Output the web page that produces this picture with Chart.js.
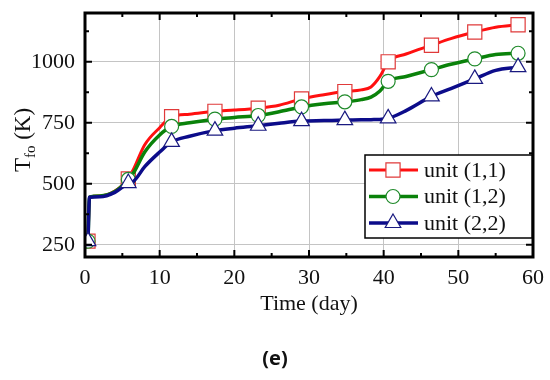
<!DOCTYPE html>
<html>
<head>
<meta charset="utf-8">
<script src="https://cdn.jsdelivr.net/npm/chart.js@4.4.1/dist/chart.umd.min.js"></script>
<style>
  html, body { margin: 0; padding: 0; background: #fff; }
  #wrap { width: 550px; height: 380px; position: relative; }
</style>
</head>
<body>
<div id="wrap"><canvas id="chart"></canvas></div>
<script>
// sample days (x) shared by the three curves
const days = [0.4, 0.6, 2, 4, 5.8, 6.5, 8, 10, 11.6, 14, 17.4, 20, 23.2, 26, 29, 32, 34.8, 37, 38.3, 39.5, 40.6, 43, 46.4, 49, 52.2, 55, 58]
// days carrying a marker
const markerDays = [0.4, 5.8, 11.6, 17.4, 23.2, 29, 34.8, 40.6, 46.4, 52.2, 58]

const unit11 = [265, 445, 450, 470, 520, 560, 660, 730, 775, 785, 797, 802, 810, 822, 848, 865, 878, 885, 897, 940, 1000, 1032, 1068, 1095, 1122, 1142, 1152]
const unit12 = [265, 445, 450, 468, 518, 545, 630, 700, 735, 750, 765, 772, 780, 795, 815, 828, 836, 845, 855, 880, 920, 940, 968, 990, 1012, 1030, 1035]
const unit22 = [265, 445, 447, 465, 503, 510, 570, 630, 672, 695, 718, 728, 738, 748, 757, 759, 761, 762, 763, 764, 768, 800, 858, 890, 930, 965, 978]

const seriesNames = ['unit (1,1)', 'unit (1,2)', 'unit (2,2)']
const xTickLabels = [0, 10, 20, 30, 40, 50, 60]
const yTickLabels = [250, 500, 750, 1000]
const yTickValues = [200, 250, 375, 500, 625, 750, 875, 1000, 1125, 1200]

const serif = '"Liberation Serif", "DejaVu Serif", serif'

const toPoints = vals => days.map((d, i) => ({ x: d, y: vals[i] }))
const markerRadius = r => ctx => (markerDays.includes(ctx.raw && ctx.raw.x) ? r : 0)

const markerSize = { rect: 10, circle: 7, triangle: 9 }

const datasets = [
  {
    label: seriesNames[0],
    data: toPoints(unit11),
    order: 2,
    borderColor: '#ff1010',
    borderWidth: 3,
    pointStyle: 'rect',
    pointRadius: markerRadius(markerSize.rect),
    pointBorderColor: '#e03a3a',
    pointBackgroundColor: '#ffffff',
    pointBorderWidth: 1.2
  },
  {
    label: seriesNames[1],
    data: toPoints(unit12),
    order: 1,
    borderColor: '#0a820a',
    borderWidth: 3.5,
    pointStyle: 'circle',
    pointRadius: markerRadius(markerSize.circle),
    pointBorderColor: '#1f8a2a',
    pointBackgroundColor: '#ffffff',
    pointBorderWidth: 1.2
  },
  {
    label: seriesNames[2],
    data: toPoints(unit22),
    order: 0,
    borderColor: '#0c0c8a',
    borderWidth: 3.5,
    pointStyle: 'triangle',
    pointRadius: markerRadius(markerSize.triangle),
    pointBorderColor: '#1a1a80',
    pointBackgroundColor: '#ffffff',
    pointBorderWidth: 1.2
  }
]

// frame, inward ticks, axis titles, legend and panel label
const decor = {
  id: 'decor',
  afterDraw(chart) {
    const { ctx, chartArea: a, scales } = chart
    const xs = scales.x
    const ys = scales.y
    ctx.save()
    ctx.strokeStyle = '#000'
    ctx.lineWidth = 2
    for (let v = 0; v <= 60; v += 5) {
      const px = xs.getPixelForValue(v)
      const len = v % 10 === 0 ? 7 : 4
      ctx.beginPath()
      ctx.moveTo(px, a.bottom); ctx.lineTo(px, a.bottom - len)
      ctx.moveTo(px, a.top); ctx.lineTo(px, a.top + len)
      ctx.stroke()
    }
    for (let v = 250; v < 1200; v += 125) {
      const py = ys.getPixelForValue(v)
      const len = v % 250 === 0 ? 7 : 4
      ctx.beginPath()
      ctx.moveTo(a.left, py); ctx.lineTo(a.left + len, py)
      ctx.moveTo(a.right, py); ctx.lineTo(a.right - len, py)
      ctx.stroke()
    }
    ctx.lineWidth = 3
    ctx.strokeRect(a.left, a.top, a.right - a.left, a.bottom - a.top)

    // x title
    ctx.fillStyle = '#111'
    ctx.font = '22px ' + serif
    ctx.textAlign = 'center'
    ctx.textBaseline = 'middle'
    ctx.fillText('Time (day)', (a.left + a.right) / 2, 304)

    // y title with subscript
    ctx.save()
    ctx.translate(22, 140)
    ctx.rotate(-Math.PI / 2)
    ctx.textAlign = 'left'
    ctx.textBaseline = 'alphabetic'
    const big = '23px ' + serif
    const small = '15px ' + serif
    ctx.font = big
    const wT = ctx.measureText('T').width
    const wK = ctx.measureText(' (K)').width
    ctx.font = small
    const wS = ctx.measureText('fo').width
    const x0 = -(wT + wS + wK) / 2
    ctx.font = big
    ctx.fillText('T', x0, 8)
    ctx.font = small
    ctx.fillText('fo', x0 + wT, 13)
    ctx.font = big
    ctx.fillText(' (K)', x0 + wT + wS, 8)
    ctx.restore()

    // legend box
    const bx = 365, by = 155, bw = 167, bh = 83
    ctx.fillStyle = '#fff'
    ctx.fillRect(bx, by, bw, bh)
    ctx.lineWidth = 1.5
    ctx.strokeStyle = '#000'
    ctx.strokeRect(bx, by, bw, bh)
    chart.data.datasets.forEach((ds, i) => {
      const ry = 170 + i * 26.5
      ctx.strokeStyle = ds.borderColor
      ctx.lineWidth = ds.borderWidth
      ctx.beginPath()
      ctx.moveTo(369, ry); ctx.lineTo(418, ry)
      ctx.stroke()
      ctx.strokeStyle = ds.pointBorderColor
      ctx.fillStyle = ds.pointBackgroundColor
      ctx.lineWidth = ds.pointBorderWidth
      Chart.helpers.drawPoint(ctx, {
        pointStyle: ds.pointStyle,
        radius: markerSize[ds.pointStyle],
        rotation: 0,
        borderWidth: ds.pointBorderWidth
      }, 393, ry)
      ctx.fillStyle = '#111'
      ctx.font = '22px ' + serif
      ctx.textAlign = 'left'
      ctx.textBaseline = 'middle'
      ctx.fillText(ds.label, 424, ry + 1)
    })

    // panel label
    ctx.fillStyle = '#111'
    ctx.font = 'bold 20px "Noto Sans", "DejaVu Sans", sans-serif'
    ctx.textAlign = 'center'
    ctx.textBaseline = 'middle'
    ctx.fillText('(e)', 275, 359)
    ctx.restore()
  }
}

new Chart(document.getElementById('chart'), {
  type: 'line',
  data: { datasets },
  options: {
    responsive: true,
    maintainAspectRatio: false,
    animation: false,
    cubicInterpolationMode: 'monotone',
    layout: { padding: { left: 0, right: 17, top: 13, bottom: 0 } },
    plugins: {
      legend: { display: false },
      tooltip: { enabled: false }
    },
    scales: {
      x: {
        type: 'linear',
        min: 0,
        max: 60,
        afterFit: scale => {
          scale.height = 123
          scale.paddingLeft = 0
          scale.paddingRight = 0
        },
        border: { display: false },
        grid: {
          drawTicks: false,
          color: c => (c.tick && c.tick.value % 10 === 0 && c.tick.value > 0 && c.tick.value < 60 ? '#c4c4c4' : 'rgba(0,0,0,0)'),
          lineWidth: 1
        },
        ticks: {
          stepSize: 5,
          autoSkip: false,
          maxRotation: 0,
          padding: 8,
          color: '#111',
          font: { family: serif, size: 22 },
          callback: v => (xTickLabels.includes(v) ? v : '')
        }
      },
      y: {
        min: 200,
        max: 1200,
        afterBuildTicks: scale => {
          scale.ticks = yTickValues.map(v => ({ value: v }))
        },
        afterFit: scale => {
          scale.width = 85
          scale.paddingTop = 0
          scale.paddingBottom = 0
        },
        border: { display: false },
        grid: {
          drawTicks: false,
          color: c => (c.tick && yTickLabels.includes(c.tick.value) ? '#c4c4c4' : 'rgba(0,0,0,0)'),
          lineWidth: 1
        },
        ticks: {
          autoSkip: false,
          padding: 10,
          color: '#111',
          font: { family: serif, size: 22 },
          callback: v => (yTickLabels.includes(v) ? v : '')
        }
      }
    }
  },
  plugins: [decor]
})
</script>
</body>
</html>
